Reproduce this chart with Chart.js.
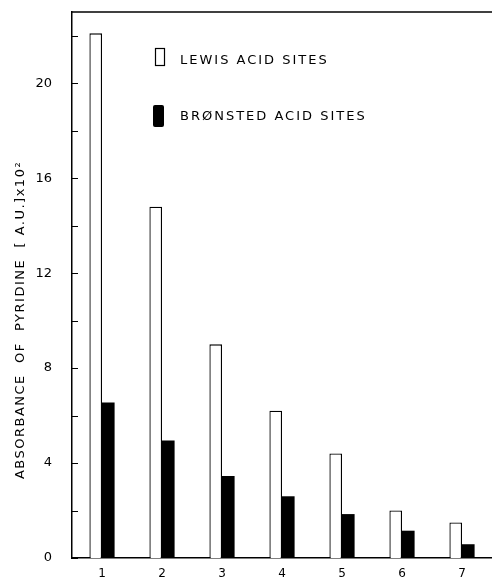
<!DOCTYPE html>
<html>
<head>
<meta charset="utf-8">
<script src="https://cdn.jsdelivr.net/npm/chart.js@4.4.0/dist/chart.umd.min.js"></script>
<style>
  body { margin: 0; background: #fff; }
  #wrap { width: 492px; height: 578px; }
</style>
</head>
<body>
<div id="wrap"><canvas id="myChart"></canvas></div>
<script>
// catalyst numbers along the x axis
const samples = ['1', '2', '3', '4', '5', '6', '7'];
// absorbance of pyridine, A.U. x 10^2
const lewis = [22.1, 14.8, 9.0, 6.2, 4.4, 2.0, 1.5];
const bronsted = [6.55, 4.95, 3.45, 2.6, 1.85, 1.15, 0.58];
const yTickLabels = [0, 4, 8, 12, 16, 20];

const seriesNames = ['LEWIS ACID SITES', 'BRØNSTED ACID SITES'];
const yTitle = 'ABSORBANCE  OF  PYRIDINE  [ A.U.]x10²';

Chart.defaults.font.family = 'DejaVu Sans';
Chart.defaults.color = '#000';

// frame top line, inward ticks, legend and rotated y title
const extras = {
    id: 'extras',
    afterDraw(chart) {
        const ctx = chart.ctx;
        const area = chart.chartArea;
        const y = chart.scales.y;
        ctx.save();
        ctx.strokeStyle = '#000';
        ctx.lineWidth = 1.5;
        ctx.beginPath();
        ctx.moveTo(area.left, area.top);
        ctx.lineTo(area.right, area.top);
        ctx.stroke();

        ctx.lineWidth = 1;
        y.ticks.forEach(t => {
            if (t.value % 2 !== 0) return;
            const py = Math.round(y.getPixelForValue(t.value)) + 0.5;
            ctx.beginPath();
            ctx.moveTo(area.left, py);
            ctx.lineTo(area.left + 6, py);
            ctx.stroke();
        });

        // legend
        ctx.font = '13px "DejaVu Sans"';
        ctx.letterSpacing = '2px';
        ctx.fillStyle = '#000';
        ctx.textBaseline = 'middle';
        ctx.lineWidth = 1.2;
        ctx.strokeRect(155.5, 48.5, 9, 17);
        ctx.fillText(seriesNames[0], 180, 61);
        ctx.beginPath();
        ctx.roundRect(153, 105, 11, 22, 2);
        ctx.fill();
        ctx.fillText(seriesNames[1], 180, 117);

        // y title
        ctx.translate(21, 320);
        ctx.rotate(-Math.PI / 2);
        ctx.textAlign = 'center';
        ctx.letterSpacing = '1.5px';
        ctx.font = '13px "DejaVu Sans"';
        ctx.fillText(yTitle, 0, 0);
        ctx.restore();
    }
};

const ctx = document.getElementById('myChart').getContext('2d');
const myChart = new Chart(ctx, {
    type: 'bar',
    data: {
        labels: samples,
        datasets: [{
            label: seriesNames[0],
            data: lewis,
            backgroundColor: '#fff',
            borderColor: '#000',
            borderWidth: 1.3,
            categoryPercentage: 0.42,
            barPercentage: 1.0
        }, {
            label: seriesNames[1],
            data: bronsted,
            backgroundColor: '#000',
            borderColor: '#000',
            borderWidth: 0,
            categoryPercentage: 0.42,
            barPercentage: 1.0
        }]
    },
    options: {
        responsive: true,
        maintainAspectRatio: false,
        animation: false,
        layout: {
            padding: { top: 12, right: 0, left: 0, bottom: 0 }
        },
        plugins: {
            legend: { display: false },
            tooltip: { enabled: false }
        },
        scales: {
            x: {
                grid: { display: false, drawTicks: true, tickLength: 4 },
                border: { display: true, color: '#000', width: 1.5 },
                ticks: { font: { size: 12 }, padding: 5 },
                afterFit(scale) { scale.height = 20; }
            },
            y: {
                min: 0,
                max: 23,
                grid: { display: false, drawTicks: true, tickLength: 20 },
                border: { display: true, color: '#000', width: 1.5 },
                ticks: {
                    stepSize: 2,
                    padding: 0,
                    font: { size: 13 },
                    callback: v => yTickLabels.includes(v) ? v : ''
                },
                afterFit(scale) { scale.width = 72; }
            }
        }
    },
    plugins: [extras]
});
</script>
</body>
</html>
